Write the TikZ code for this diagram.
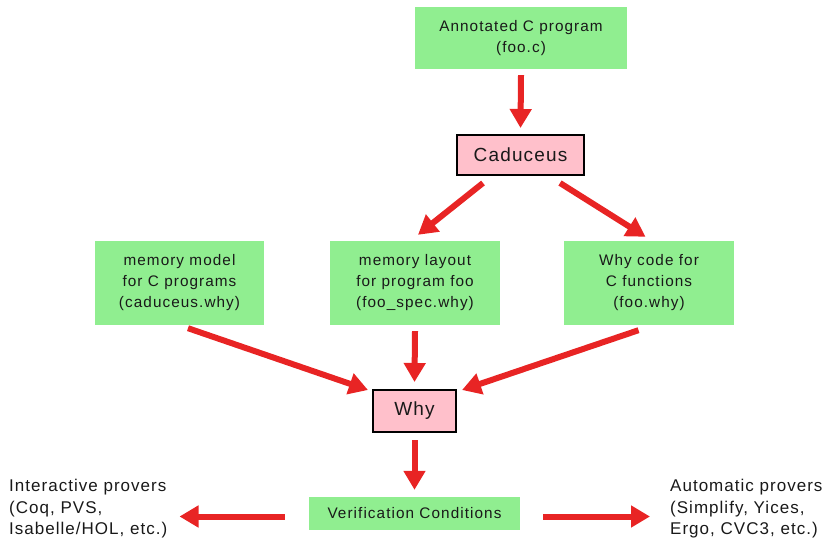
\documentclass[tikz,border=0pt]{standalone}
\usepackage{fontspec}
\setmainfont{Liberation Sans}
\newfontfamily\boxfont{Liberation Sans}[LetterSpace=7]
\newfontfamily\bigfont{Liberation Sans}[LetterSpace=6]
\newfontfamily\sidefont{Liberation Sans}[LetterSpace=6]
\usetikzlibrary{arrows.meta,calc}
\definecolor{boxgreen}{RGB}{144,238,144}
\definecolor{boxpink}{RGB}{255,192,203}
\definecolor{arrred}{RGB}{232,36,36}
\definecolor{txt}{RGB}{25,25,25}
\begin{document}
\begin{tikzpicture}[x=1pt,y=-1pt,
  greenbox/.style={fill=boxgreen, draw=none, align=center, text=txt,
    font=\boxfont\fontsize{15.3}{21}\selectfont, inner sep=0pt},
  pinkbox/.style={fill=boxpink, draw=black, line width=2pt, align=center, text=txt,
    font=\bigfont\fontsize{19}{22}\selectfont, inner sep=0pt},
  sidetext/.style={align=left, text=txt, inner sep=0pt,
    font=\sidefont\fontsize{17}{21.5}\selectfont},
  bigarrow/.style={draw=arrred, line width=6pt, -{Triangle[width=21pt,length=19pt]}}
]
\useasboundingbox (0,0) rectangle (829,543);

\node[greenbox, minimum width=212pt, minimum height=62pt] (ann) at (521,38) {Annotated C program\\(foo.c)};
\node[pinkbox, minimum width=127pt, minimum height=40pt] (cad) at (520.5,155) {Caduceus};
\node[greenbox, minimum width=169pt, minimum height=84pt] (mm) at (179.5,283) {memory model\\for C programs\\(caduceus.why)};
\node[greenbox, minimum width=170pt, minimum height=84pt] (lay) at (415,283) {memory layout\\for program foo\\(foo\_spec.why)};
\node[greenbox, minimum width=170pt, minimum height=84pt] (wc) at (649,283) {Why code for\\C functions\\(foo.why)};
\node[pinkbox, minimum width=83pt, minimum height=42pt] (why) at (414.5,411) {Why};
\node[greenbox, minimum width=211pt, minimum height=33pt] (vc) at (414.5,513.5) {Verification Conditions};
\node[sidetext, anchor=north west] (ip) at (9,479) {Interactive provers\\(Coq, PVS,\\Isabelle/HOL, etc.)};
\node[sidetext, anchor=north west] (ap) at (670,479) {Automatic provers\\(Simplify, Yices,\\Ergo, CVC3, etc.)};

\draw[bigarrow] ([yshift=-6pt]ann.south) -- ([yshift=6pt]cad.north);
\draw[bigarrow] ([xshift=-37.5pt,yshift=-7pt]cad.south) -- ([xshift=3pt,yshift=6pt]lay.north);
\draw[bigarrow] ([xshift=39.5pt,yshift=-7pt]cad.south) -- ([xshift=-3.5pt,yshift=4pt]wc.north);
\draw[bigarrow] ([xshift=8.5pt,yshift=-3pt]mm.south) -- ([xshift=-4pt,yshift=-1pt]why.north west);
\draw[bigarrow] ([yshift=-6pt]lay.south) -- ([yshift=7pt]why.north);
\draw[bigarrow] ([xshift=-10.5pt,yshift=-5pt]wc.south) -- ([xshift=5pt,yshift=-1pt]why.north east);
\draw[bigarrow] ([yshift=-7pt]why.south) -- ([yshift=7pt]vc.north);
\draw[bigarrow] ([xshift=-24pt,yshift=-3pt]vc.west) -- ($(ip.east |- vc.west)+(12,3)$);
\draw[bigarrow] ([xshift=23pt,yshift=-3pt]vc.east) -- ($(ap.west |- vc.east)+(-20,3)$);
\end{tikzpicture}
\end{document}
